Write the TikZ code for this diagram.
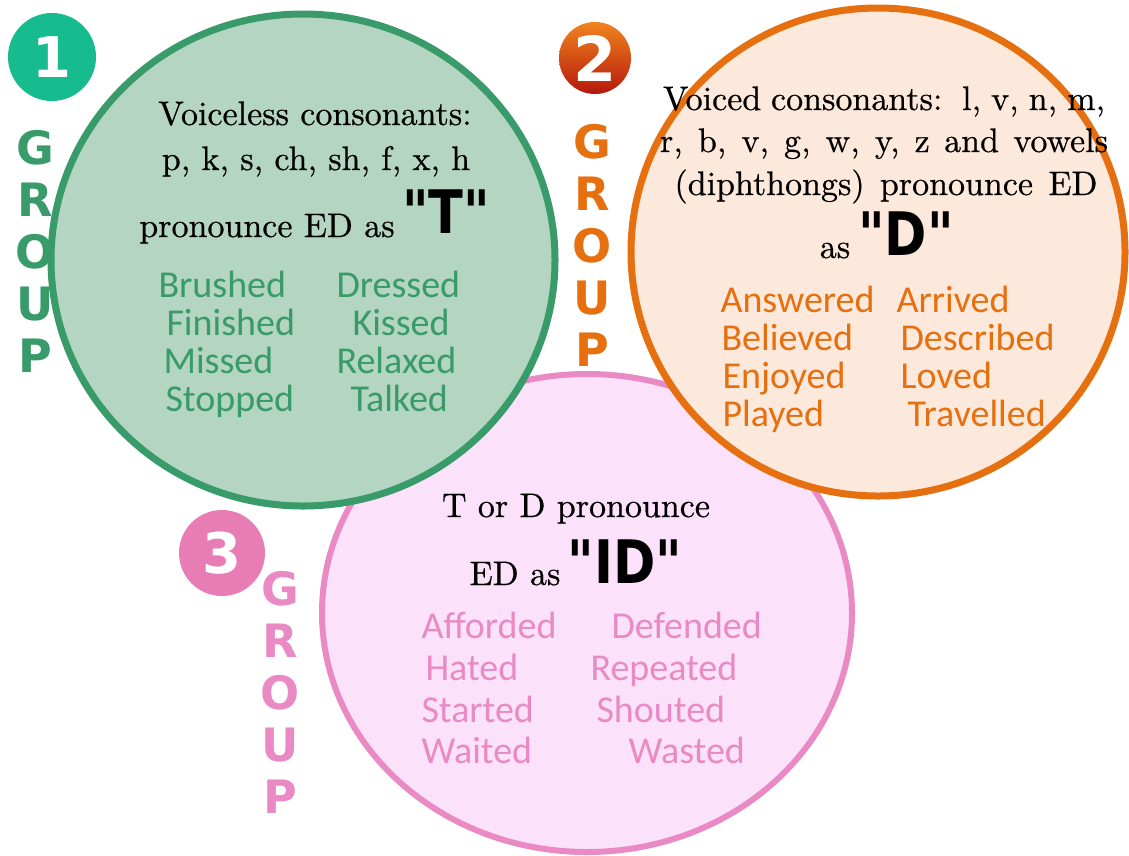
\documentclass[tikz,border=0pt]{standalone}
\usepackage{fontspec}
\usetikzlibrary{shapes.geometric}

\newfontfamily\wordfont{Carlito}
\newfontfamily\blockfont{DejaVu Sans}
\newfontfamily\headfont{lmroman10-regular.otf}[FakeBold=0.6]

\definecolor{greenfill}{HTML}{B3D5C1}
\definecolor{greenline}{HTML}{389B69}
\definecolor{tealbadge}{HTML}{16BC8D}
\definecolor{orangefill}{HTML}{FDE9DB}
\definecolor{orangeline}{HTML}{E6700F}
\definecolor{orangetop}{HTML}{F0841E}
\definecolor{orangebot}{HTML}{B5180C}
\definecolor{pinkfill}{HTML}{FBE1F9}
\definecolor{pinkline}{HTML}{E98AC5}
\definecolor{pinkbadge}{HTML}{E77DB4}

\begin{document}
\begin{tikzpicture}[x=1pt, y=-1pt,
    bubble/.style={ellipse, draw, line width=7pt, inner sep=0pt},
    badge/.style={circle, minimum size=#1, inner sep=0pt, text=white,
      font=\blockfont\bfseries\fontsize{56}{60}\selectfont},
    letters/.style={align=center, font=\blockfont\bfseries\fontsize{46}{52}\selectfont},
    head/.style={anchor=base, font=\headfont\fontsize{34}{38}\selectfont},
    quoted/.style={anchor=base, font=\blockfont\bfseries\fontsize{60}{62}\selectfont},
    word/.style={anchor=base west, font=\wordfont\fontsize{38}{40}\selectfont}]
    \useasboundingbox[fill=white] (0,0) rectangle (1129,855);

    % the three groups
    \node (pinkset) [bubble, draw=pinkline, fill=pinkfill, line width=6pt,
      minimum width=530, minimum height=478] at (587,613) {};
    \node (greenset) [bubble, draw=greenline, fill=greenfill,
      minimum width=504, minimum height=492] at (303,260) {};
    \node (orangeset) [bubble, draw=orangeline, fill=orangefill,
      minimum width=494, minimum height=488] at (878,252) {};

    % badges and side labels
    \node (one) [badge=88, fill=tealbadge] at (52,57) {1};
    \node (two) [badge=72, top color=orangetop, bottom color=orangebot,
      font=\blockfont\bfseries\fontsize{62}{64}\selectfont] at (595,58) {2};
    \node (three) [badge=86, fill=pinkbadge] at (222,553) {3};
    \node (grp1) [letters, text=greenline] at (35,251) {G\\R\\O\\U\\P};
    \node (grp2) [letters, text=orangeline] at (592,245) {G\\R\\O\\U\\P};
    \node (grp3) [letters, text=pinkline] at (280,692) {G\\R\\O\\U\\P};

    % group 1: voiceless
    \node (h11) [head] at (315,125) {Voiceless consonants:};
    \node (h12) [head] at (316,170) {p, k, s, ch, sh, f, x, h};
    \node (h13) [head] at (267,237) {pronounce ED as};
    \node (qt) [quoted] at (446,233) {\scalebox{0.85}[1]{"T"}};
    \node (w11) [word, text=greenline] at (155,297) {Brushed};
    \node (w12) [word, text=greenline] at (163,335) {Finished};
    \node (w13) [word, text=greenline] at (160,373) {Missed};
    \node (w14) [word, text=greenline] at (162,411) {Stopped};
    \node (w15) [word, text=greenline] at (333,297) {Dressed};
    \node (w16) [word, text=greenline] at (349,335) {Kissed};
    \node (w17) [word, text=greenline] at (333,373) {Relaxed};
    \node (w18) [word, text=greenline] at (347,411) {Talked};

    % group 2: voiced
    \node (h21) [head] at (884,110) {\makebox[442pt][s]{Voiced consonants:\ \ l, v, n, m,}};
    \node (h22) [head] at (884,152) {\makebox[448pt][s]{r, b, v, g, w, y, z and vowels}};
    \node (h23) [head] at (886,195) {\makebox[423pt][s]{(diphthongs) pronounce ED}};
    \node (h24) [head] at (835,258) {as};
    \node (qd) [quoted] at (906,255) {\scalebox{0.85}[1]{"D"}};
    \node (w21) [word, text=orangeline] at (717,312) {Answered};
    \node (w22) [word, text=orangeline] at (718,350) {Believed};
    \node (w23) [word, text=orangeline] at (719,388) {Enjoyed};
    \node (w24) [word, text=orangeline] at (719,426) {Played};
    \node (w25) [word, text=orangeline] at (893,312) {Arrived};
    \node (w26) [word, text=orangeline] at (897,350) {Described};
    \node (w27) [word, text=orangeline] at (897,388) {Loved};
    \node (w28) [word, text=orangeline] at (904,426) {Travelled};

    % group 3: after t or d
    \node (h31) [head] at (576,517) {T or D pronounce};
    \node (h32) [head] at (515,585) {ED as};
    \node (qid) [quoted] at (625,583) {\scalebox{0.85}[1]{"ID"}};
    \node (w31) [word, text=pinkline] at (418,638) {Afforded};
    \node (w32) [word, text=pinkline] at (422,680) {Hated};
    \node (w33) [word, text=pinkline] at (418,722) {Started};
    \node (w34) [word, text=pinkline] at (418,763) {Waited};
    \node (w35) [word, text=pinkline] at (608,638) {Defended};
    \node (w36) [word, text=pinkline] at (587,680) {Repeated};
    \node (w37) [word, text=pinkline] at (593,722) {Shouted};
    \node (w38) [word, text=pinkline] at (625,763) {Wasted};
\end{tikzpicture}
\end{document}
